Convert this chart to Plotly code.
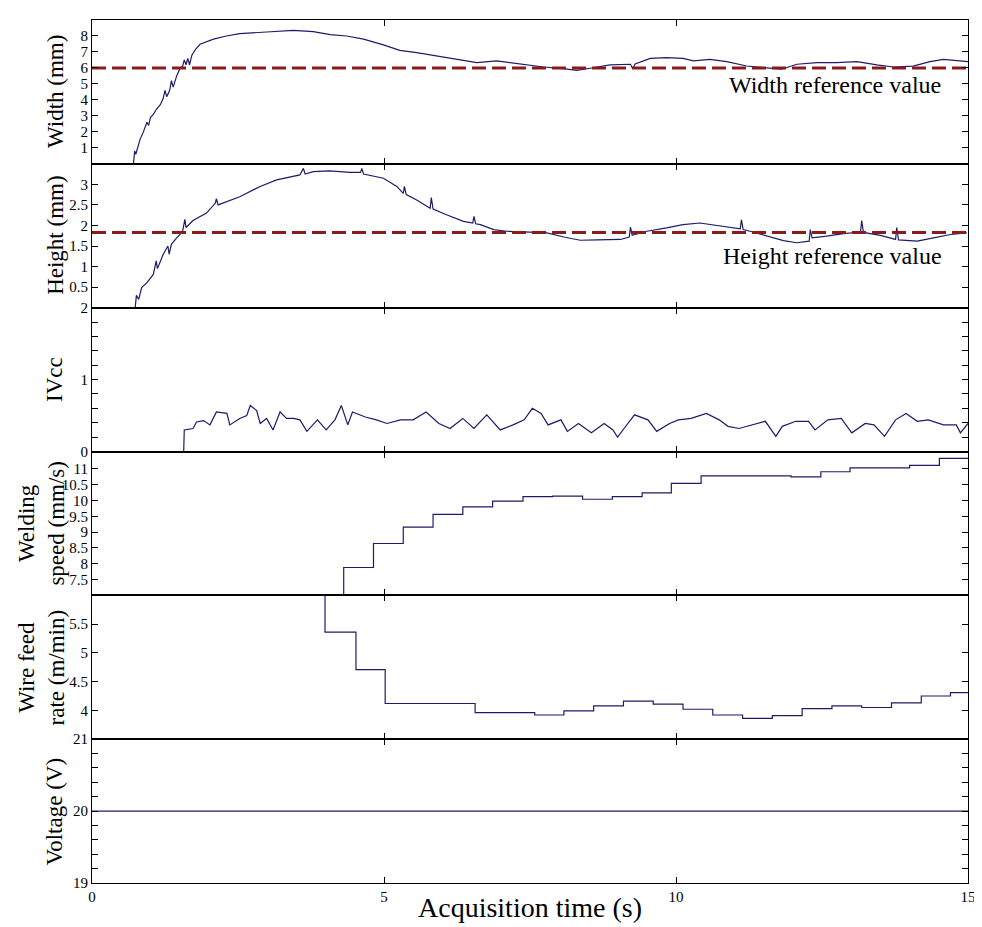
import plotly.graph_objects as go
from plotly.subplots import make_subplots

# ---------------- data ----------------
width_t = [0.71, 0.73, 0.75, 0.78, 0.82, 0.88, 0.94, 0.97, 1.0, 1.05, 1.1, 1.17, 1.22, 1.25, 1.28, 1.33, 1.36, 1.39, 1.45, 1.51, 1.55,
           1.58, 1.61, 1.64, 1.67, 1.71, 1.78, 1.85, 1.95, 2.08, 2.3, 2.53, 2.99, 3.45, 3.79, 4.08, 4.36, 4.65, 4.99,
           5.27, 5.56, 5.9, 6.19, 6.59, 6.93, 7.27, 7.73, 8.07, 8.3, 8.53, 8.87, 9.22, 9.26, 9.3, 9.56, 9.84, 10.12,
           10.3, 10.58, 10.87, 11.21, 11.5, 11.81, 12.07, 12.41, 12.75, 13.1, 13.44, 13.72, 14.06, 14.35, 14.58, 14.81, 15.0]
width_v = [0.0, 0.8, 0.6, 1.0, 1.5, 2.0, 2.6, 2.4, 2.9, 3.1, 3.4, 3.7, 4.1, 4.6, 4.2, 4.6, 5.2, 4.8, 5.5, 6.0, 6.1,
           6.5, 6.2, 6.6, 6.2, 6.8, 7.2, 7.48, 7.6, 7.8, 8.0, 8.15, 8.25, 8.35, 8.27, 8.08, 8.0, 7.8, 7.44,
           7.1, 6.96, 6.75, 6.6, 6.33, 6.44, 6.27, 6.06, 5.96, 5.85, 5.98, 6.19, 6.23, 5.95, 6.25, 6.6, 6.65, 6.6,
           6.44, 6.54, 6.4, 6.12, 6.02, 5.92, 6.23, 6.33, 6.33, 6.4, 6.19, 6.06, 6.12, 6.4, 6.54, 6.44, 6.4]
width_ref = 6.0

height_t = [0.74, 0.76, 0.8, 0.85, 0.94, 1.05, 1.1, 1.12, 1.22, 1.3, 1.32, 1.36, 1.45, 1.55, 1.59, 1.61, 1.73, 1.96, 2.11, 2.13, 2.16,
            2.53, 2.88, 3.16, 3.56, 3.62, 3.65, 3.79, 4.07, 4.42, 4.6, 4.62, 4.65, 4.99, 5.22, 5.33, 5.35, 5.38, 5.56, 5.79, 5.81, 5.84,
            6.07, 6.36, 6.52, 6.54, 6.57, 6.65, 6.88, 7.1, 7.5, 7.79, 8.08, 8.36, 8.65, 9.05, 9.2, 9.22, 9.25, 9.5, 9.84,
            10.12, 10.41, 10.7, 10.98, 11.1, 11.12, 11.15, 11.27, 11.56, 11.84, 12.07, 12.28, 12.3, 12.33, 12.58, 12.87,
            13.16, 13.18, 13.21, 13.5, 13.76, 13.78, 13.81, 14.13, 14.41, 14.7, 14.98]
height_v = [0.0, 0.3, 0.2, 0.49, 0.61, 0.81, 1.14, 0.95, 1.3, 1.5, 1.3, 1.54, 1.7, 1.85, 2.15, 1.95, 2.12, 2.3, 2.54, 2.65, 2.5,
            2.7, 2.95, 3.11, 3.23, 3.39, 3.25, 3.31, 3.33, 3.29, 3.29, 3.39, 3.25, 3.15, 2.95, 2.78, 2.95, 2.75, 2.62, 2.42, 2.68, 2.4,
            2.26, 2.1, 2.06, 2.22, 2.04, 2.02, 1.9, 1.86, 1.84, 1.82, 1.72, 1.64, 1.65, 1.66, 1.72, 1.96, 1.76, 1.86, 1.94,
            2.02, 2.06, 2.0, 1.94, 1.92, 2.14, 1.9, 1.86, 1.74, 1.63, 1.58, 1.62, 1.9, 1.7, 1.74, 1.8,
            1.84, 2.12, 1.83, 1.76, 1.66, 1.95, 1.65, 1.62, 1.7, 1.78, 1.82]
height_ref = 1.83

ivcc_t = [0, 1.57, 1.58, 1.73, 1.79, 1.91, 2.02, 2.13, 2.31, 2.36, 2.53, 2.65, 2.71, 2.82, 2.88, 2.99, 3.1, 3.22, 3.33, 3.45,
          3.56, 3.68, 3.86, 4.01, 4.16, 4.27, 4.38, 4.46, 4.68, 4.87, 5.05, 5.28, 5.5, 5.72, 5.94, 6.13, 6.35, 6.54, 6.76,
          6.99, 7.21, 7.40, 7.54, 7.69, 7.81, 8.03, 8.14, 8.33, 8.55, 8.77, 8.92, 9.0, 9.11, 9.29, 9.52, 9.67, 9.89, 10.04,
          10.26, 10.52, 10.74, 10.89, 11.08, 11.38, 11.53, 11.71, 11.82, 12.05, 12.27, 12.38, 12.6, 12.83, 13.01, 13.24,
          13.39, 13.57, 13.76, 13.94, 14.13, 14.32, 14.58, 14.8, 14.87, 15.0]
ivcc_v = [0, 0, 0.30, 0.32, 0.41, 0.43, 0.37, 0.55, 0.53, 0.37, 0.46, 0.50, 0.64, 0.57, 0.39, 0.46, 0.30, 0.55, 0.46, 0.46,
          0.44, 0.28, 0.44, 0.30, 0.44, 0.64, 0.37, 0.55, 0.48, 0.44, 0.39, 0.44, 0.44, 0.55, 0.39, 0.32, 0.46, 0.32, 0.51,
          0.30, 0.37, 0.44, 0.60, 0.53, 0.37, 0.44, 0.28, 0.39, 0.26, 0.39, 0.30, 0.20, 0.32, 0.51, 0.44, 0.28, 0.39, 0.44,
          0.46, 0.53, 0.44, 0.35, 0.32, 0.39, 0.42, 0.21, 0.35, 0.42, 0.42, 0.30, 0.44, 0.46, 0.26, 0.39,
          0.37, 0.21, 0.44, 0.53, 0.42, 0.44, 0.37, 0.37, 0.26, 0.39]

speed_t = [4.31, 4.31, 4.82, 5.33, 5.84, 6.35, 6.86, 7.38, 7.89, 8.40, 8.91, 9.42, 9.92, 10.43, 10.94, 11.45, 11.97,
           12.48, 12.98, 13.49, 14.00, 14.51, 15.0]
speed_v = [6.9, 7.88, 8.64, 9.16, 9.56, 9.80, 9.98, 10.12, 10.14, 10.04, 10.12, 10.24, 10.54, 10.78, 10.78, 10.78, 10.75,
           10.91, 11.03, 11.03, 11.11, 11.33, 11.33]

wire_t = [3.99, 3.99, 4.52, 5.02, 5.53, 6.04, 6.56, 7.07, 7.58, 8.08, 8.59, 9.10, 9.61, 10.12, 10.63, 11.14, 11.65,
          12.16, 12.67, 13.18, 13.69, 14.2, 14.7, 15.0]
wire_v = [6.2, 5.36, 4.71, 4.12, 4.12, 4.12, 3.96, 3.96, 3.92, 3.99, 4.08, 4.16, 4.11, 4.02, 3.92, 3.86, 3.91,
          4.03, 4.08, 4.05, 4.13, 4.25, 4.31, 4.31]

volt_t = [0, 15]
volt_v = [20, 20]

x_ticks = [0, 5, 10, 15]

# ---------------- figure ----------------
LINE = "#1c1c6b"
REF = "#8b1a1a"
FONT = "Liberation Serif"

fig = make_subplots(rows=6, cols=1, shared_xaxes=True, vertical_spacing=0)

fig.add_trace(go.Scatter(x=width_t, y=width_v, mode="lines", line=dict(color=LINE, width=1.2)), row=1, col=1)
fig.add_trace(go.Scatter(x=[0, 15], y=[width_ref, width_ref], mode="lines",
                         line=dict(color=REF, width=3, dash="14px,6px")), row=1, col=1)
fig.add_trace(go.Scatter(x=height_t, y=height_v, mode="lines", line=dict(color=LINE, width=1.2)), row=2, col=1)
fig.add_trace(go.Scatter(x=[0, 15], y=[height_ref, height_ref], mode="lines",
                         line=dict(color=REF, width=3, dash="14px,6px")), row=2, col=1)
fig.add_trace(go.Scatter(x=ivcc_t, y=ivcc_v, mode="lines", line=dict(color=LINE, width=1.2)), row=3, col=1)
fig.add_trace(go.Scatter(x=speed_t, y=speed_v, mode="lines", line=dict(color=LINE, width=1.2, shape="hv")), row=4, col=1)
fig.add_trace(go.Scatter(x=wire_t, y=wire_v, mode="lines", line=dict(color=LINE, width=1.2, shape="hv")), row=5, col=1)
fig.add_trace(go.Scatter(x=volt_t, y=volt_v, mode="lines", line=dict(color=LINE, width=1.2)), row=6, col=1)

axis_common = dict(showline=True, linecolor="black", linewidth=1, mirror="ticks", ticks="inside",
                   ticklen=6, tickcolor="black", showgrid=False, zeroline=False,
                   tickfont=dict(family=FONT, size=15, color="black"))

for r in range(1, 7):
    fig.update_xaxes(range=[0, 15], tickvals=x_ticks, showticklabels=(r == 6), row=r, col=1, **axis_common)

def minor_labels(vals, labeled):
    return [("%g" % v) if any(abs(v - l) < 1e-9 for l in labeled) else "" for v in vals]

ivcc_ticks = [round(0.2 * i, 1) for i in range(11)]
volt_ticks = [round(19 + 0.2 * i, 1) for i in range(11)]

fig.update_yaxes(range=[0, 9], tickvals=[1, 2, 3, 4, 5, 6, 7, 8], row=1, col=1, **axis_common)
fig.update_yaxes(range=[0, 3.5], tickvals=[0.5, 1, 1.5, 2, 2.5, 3], row=2, col=1, **axis_common)
fig.update_yaxes(range=[0, 2], tickvals=ivcc_ticks, ticktext=minor_labels(ivcc_ticks, [0, 1, 2]), row=3, col=1, **axis_common)
fig.update_yaxes(range=[7, 11.55], tickvals=[7.5, 8, 8.5, 9, 9.5, 10, 10.5, 11], row=4, col=1, **axis_common)
fig.update_yaxes(range=[3.5, 6.0], tickvals=[4, 4.5, 5, 5.5], row=5, col=1, **axis_common)
fig.update_yaxes(range=[19, 21], tickvals=volt_ticks, ticktext=minor_labels(volt_ticks, [19, 20, 21]), row=6, col=1, **axis_common)

titles = ["Width (mm)", "Height (mm)", "IVcc", "Welding<br>speed (mm/s)", "Wire feed<br>rate (m/min)", "Voltage (V)"]
title_x = [-0.041, -0.041, -0.043, -0.058, -0.058, -0.043]
for i, (t, xx) in enumerate(zip(titles, title_x)):
    fig.add_annotation(text=t, xref="paper", yref="paper", x=xx, y=1 - (i + 0.5) / 6, textangle=-90,
                       showarrow=False, xanchor="center", yanchor="middle",
                       font=dict(family=FONT, size=23, color="black"))

fig.add_annotation(text="Width reference value", xref="paper", yref="paper", x=0.848, y=0.925,
                   showarrow=False, xanchor="center", yanchor="middle",
                   font=dict(family=FONT, size=24, color="black"))
fig.add_annotation(text="Height reference value", xref="paper", yref="paper", x=0.845, y=0.727,
                   showarrow=False, xanchor="center", yanchor="middle",
                   font=dict(family=FONT, size=24, color="black"))
fig.add_annotation(text="Acquisition time (s)", xref="paper", yref="paper", x=0.5, y=-0.0287,
                   showarrow=False, xanchor="center", yanchor="middle",
                   font=dict(family=FONT, size=28, color="black"))

# page body has an 8px default margin; size the figure so it fits the window
fig.update_layout(width=974, height=919, margin=dict(l=84, r=14, t=4, b=44),
                  paper_bgcolor="white", plot_bgcolor="white", showlegend=False)

fig.write_html("out.html")
